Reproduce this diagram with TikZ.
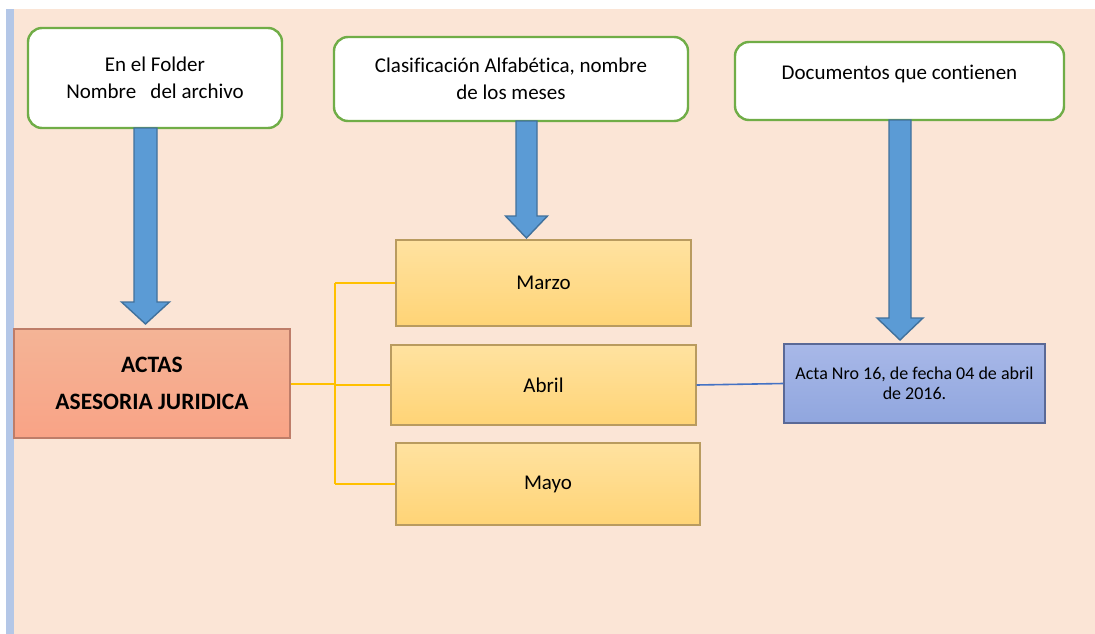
\documentclass[tikz,border=0pt]{standalone}
\usepackage{fontspec}
\setmainfont{Carlito}[Ligatures=NoCommon]
\usetikzlibrary{calc}
\definecolor{peach}{HTML}{FBE5D6}
\definecolor{stripblue}{HTML}{B4C7E7}
\definecolor{framegreen}{HTML}{70AD47}
\definecolor{arrowfill}{HTML}{5B9BD5}
\definecolor{arrowedge}{HTML}{41719C}
\definecolor{linkorange}{HTML}{FFC000}
\definecolor{linkblue}{HTML}{4472C4}
\tikzset{
  x=1pt, y=-1pt,
  notebox/.style={draw=framegreen, line width=2.4pt, fill=white, rounded corners=14pt,
    inner sep=0pt, align=center, font=\fontsize{21}{27}\selectfont},
  monthbox/.style={draw={rgb,255:red,185;green,155;blue,95}, line width=1.4pt,
    top color={rgb,255:red,255;green,226;blue,160}, bottom color={rgb,255:red,255;green,212;blue,118},
    inner sep=0pt, align=center, font=\fontsize{21}{24}\selectfont},
  mainbox/.style={draw={rgb,255:red,190;green,125;blue,105}, line width=1.4pt,
    top color={rgb,255:red,244;green,180;blue,150}, bottom color={rgb,255:red,249;green,163;blue,134},
    inner sep=0pt, align=center, font=\bfseries\fontsize{23.5}{37}\selectfont},
  docbox/.style={draw={rgb,255:red,90;green,105;blue,150}, line width=1.3pt,
    top color={rgb,255:red,168;green,184;blue,232}, bottom color={rgb,255:red,144;green,166;blue,222},
    inner sep=0pt, align=center, font=\fontsize{18}{20.5}\selectfont},
  blockarrow/.style={fill=arrowfill, draw=arrowedge, line width=1.4pt, line join=miter},
  orangelink/.style={draw=linkorange, line width=2pt},
  bluelink/.style={draw=linkblue, line width=1.6pt},
}
% downward block arrow: centre x, top y, head base y, tip y, shaft half width, head half width
\newcommand{\blockdown}[6]{%
  \filldraw[blockarrow] (#1-#5,#2) -- (#1+#5,#2) -- (#1+#5,#3) -- (#1+#6,#3)
    -- (#1,#4) -- (#1-#6,#3) -- (#1-#5,#3) -- cycle;}
\begin{document}
\begin{tikzpicture}
  % page background
  \fill[white] (0,0) rectangle (1095,634);
  \useasboundingbox (0,0) rectangle (1095,634);
  \fill[peach] (14,9) rectangle (1095,634);
  \fill[stripblue] (6,9) rectangle (14,634);

  % header notes
  \node[notebox, minimum width=254pt, minimum height=100pt] (n1) at (155,78)
    {En el Folder\\Nombre\ \ \ del archivo};
  \node[notebox, minimum width=354pt, minimum height=84pt] (n2) at (511,79)
    {Clasificación Alfabética, nombre\\de los meses};
  \node[notebox, minimum width=329pt, minimum height=78pt] (n3) at (899.5,81) {};
  \node[font=\fontsize{21}{27}\selectfont, anchor=base] (n3t) at (899.5,79)
    {Documentos que contienen};

  % block arrows from the notes
  \blockdown{145.5}{128}{302}{324}{11.5}{24}
  \blockdown{526.5}{121}{216}{238}{10.5}{21}
  \blockdown{900}{120}{318}{340}{11}{23}

  % main box
  \node[mainbox, minimum width=276pt, minimum height=109pt] (actas) at (152,383.5)
    {ACTAS\\ASESORIA JURIDICA};

  % months
  \node[monthbox, minimum width=295pt, minimum height=86pt] (marzo) at (543.5,283) {Marzo};
  \node[monthbox, minimum width=305pt, minimum height=80pt] (abril) at (543.5,385) {Abril};
  \node[monthbox, minimum width=304pt, minimum height=82pt] (mayo) at (548,484) {Mayo};

  % document
  \node[docbox, minimum width=261pt, minimum height=79pt] (acta) at (914.5,383.5)
    {Acta Nro 16, de fecha 04 de abril\\de 2016.};

  % connectors
  \coordinate (fork) at (335,383.5);
  \draw[orangelink] (actas.east) -- (fork);
  \draw[orangelink] (fork |- marzo.west) -- (fork |- mayo.west);
  \draw[orangelink] (fork |- marzo.west) -- (marzo.west);
  \draw[orangelink] (fork |- abril.west) -- (abril.west);
  \draw[orangelink] (fork |- mayo.west) -- (mayo.west);
  \draw[bluelink] (abril.east) -- (acta.west);
\end{tikzpicture}
\end{document}
